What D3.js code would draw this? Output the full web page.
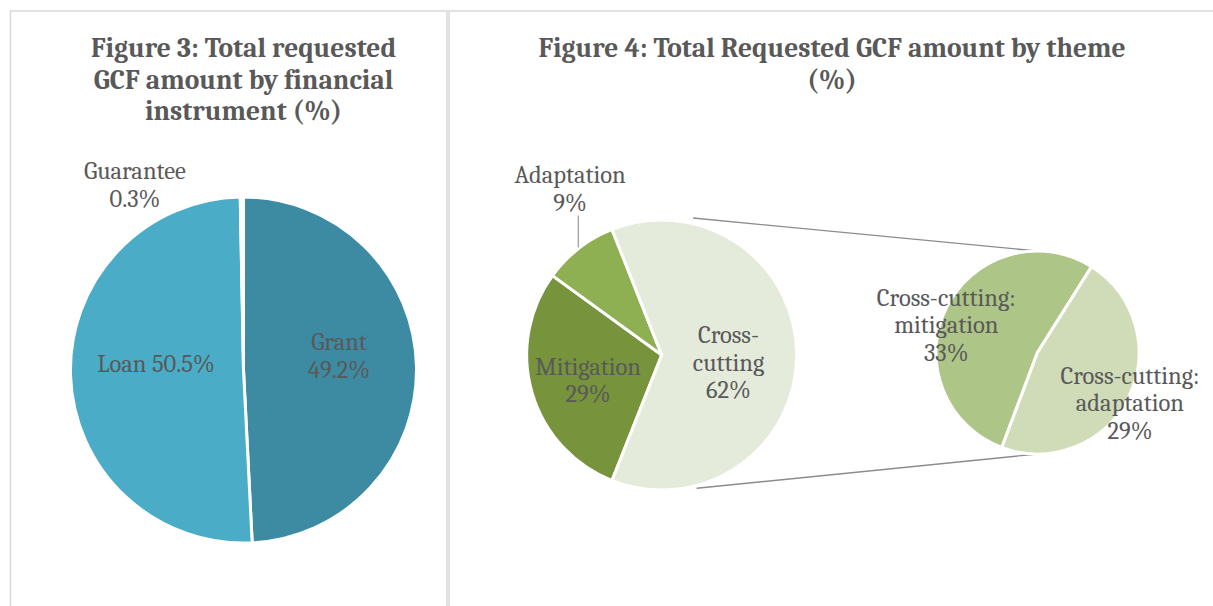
<!DOCTYPE html>
<html><head><meta charset="utf-8">
<script src="https://cdn.jsdelivr.net/npm/d3@7"></script>
<style>
body{margin:0;background:#fff}
svg{display:block}
text{font-family:Cambria,"Liberation Serif",serif;fill:#595959}
</style>
</head><body><svg id="c" width="1213" height="606"></svg>
<script>
// ---------- data ----------
const fig3Title = ["Figure 3: Total requested", "GCF amount by financial", "instrument (%)"];
const fig3Categories = ["Grant", "Loan", "Guarantee"];
const fig3Values = [49.2, 50.5, 0.3];
const fig3Labels = [["Grant", "49.2%"], ["Loan 50.5%"], ["Guarantee", "0.3%"]];

const fig4Title = ["Figure 4: Total Requested GCF amount by theme", "(%)"];
const fig4Categories = ["Mitigation", "Adaptation", "Cross-cutting"];
const fig4Values = [29, 9, 62];
const fig4Labels = [["Mitigation", "29%"], ["Adaptation", "9%"], ["Cross-", "cutting", "62%"]];

const fig4SubCategories = ["Cross-cutting: mitigation", "Cross-cutting: adaptation"];
const fig4SubValues = [33, 29];
const fig4SubLabels = [["Cross-cutting:", "mitigation", "33%"], ["Cross-cutting:", "adaptation", "29%"]];

// ---------- styles / layout ----------
const fig3Colors = ["#3d8ba3", "#4aacc6", "#f7fbfc"];
const fig4Colors = ["#77933c", "#8fb052", "#e5ebdb"];
const fig4SubColors = ["#adc586", "#d0dcb8"];

const svg = d3.select("#c");
const deg = Math.PI / 180;
const labelSize = 24.5, labelLead = 27.5;
const titleSize = 27.5, titleLead = 31.5;

// panel borders
svg.append("rect").attr("x", 10.5).attr("y", 11).attr("width", 436.5).attr("height", 700)
  .attr("fill", "none").attr("stroke", "#d9d9d9").attr("stroke-width", 1.5);
svg.append("rect").attr("x", 449).attr("y", 11).attr("width", 900).attr("height", 700)
  .attr("fill", "none").attr("stroke", "#d9d9d9").attr("stroke-width", 1.5);

function title(lines, cx, y0) {
  const t = svg.append("text").attr("text-anchor", "middle")
    .style("font-weight", "bold").style("font-size", titleSize + "px");
  lines.forEach((l, i) => t.append("tspan").attr("x", cx).attr("y", y0 + i * titleLead).text(l));
}

function label(lines, x, y) {
  const t = svg.append("text").attr("text-anchor", "middle").style("font-size", labelSize + "px");
  const n = lines.length;
  lines.forEach((l, i) => t.append("tspan").attr("x", x)
    .attr("y", y + (i - (n - 1) / 2) * labelLead).attr("dy", "0.33em").text(l));
}

function drawPie(values, colors, cx, cy, r, start, sw) {
  const pie = d3.pie().sort(null).value(d => d).startAngle(start).endAngle(start + 2 * Math.PI);
  const arcs = pie(values);
  const arc = d3.arc().innerRadius(0).outerRadius(r);
  const g = svg.append("g").attr("transform", `translate(${cx},${cy})`);
  g.selectAll("path").data(arcs).join("path")
    .attr("d", arc).attr("fill", (d, i) => colors[i])
    .attr("stroke", "#fff").attr("stroke-width", sw).attr("stroke-linejoin", "miter");
  return arcs;
}

function polar(cx, cy, a, dist) {
  const p = d3.pointRadial(a * deg, dist);
  return [cx + p[0], cy + p[1]];
}

// ---------- Figure 3 ----------
title(fig3Title, 243.5, 57);
const f3 = {cx: 243.5, cy: 370, r: 173};
drawPie(fig3Values, fig3Colors, f3.cx, f3.cy, f3.r, 0, 3);
const fig3LabelPos = [[81.7, 96.5], [-86.1, 87.7], [-30.4, 214.5]];
fig3Labels.forEach((l, i) => {
  const p = polar(f3.cx, f3.cy, fig3LabelPos[i][0], fig3LabelPos[i][1]);
  label(l, p[0], p[1]);
});

// ---------- Figure 4 ----------
title(fig4Title, 832, 57);
const f4 = {cx: 661.7, cy: 355, r: 135};
const f4s = {cx: 1037.5, cy: 352.5, r: 101.5};
const splitFrac = fig4Values[2] / d3.sum(fig4Values);
const mainStart = Math.PI / 2 + splitFrac * Math.PI;

// connector lines
const connectors = [
  [polar(f4.cx, f4.cy, 12.9, 140.5), [f4s.cx, f4s.cy - f4s.r]],
  [polar(f4.cx, f4.cy, 165.3, 137.8), [f4s.cx, f4s.cy + f4s.r]]
];
svg.selectAll("line.conn").data(connectors).join("line").attr("class", "conn")
  .attr("x1", d => d[0][0]).attr("y1", d => d[0][1])
  .attr("x2", d => d[1][0]).attr("y2", d => d[1][1])
  .attr("stroke", "#8c8c8c").attr("stroke-width", 1.4);

const mainArcs = drawPie(fig4Values, fig4Colors, f4.cx, f4.cy, f4.r, mainStart, 3);
drawPie(fig4SubValues, fig4SubColors, f4s.cx, f4s.cy, f4s.r, 200.6 * deg, 3);

const fig4LabelPos = [[251, 78], [-28.9, 189.6], [96.4, 67.2]];
fig4Labels.forEach((l, i) => {
  const p = polar(f4.cx, f4.cy, fig4LabelPos[i][0], fig4LabelPos[i][1]);
  label(l, p[0], p[1]);
});
// leader line for Adaptation
{
  const a = mainArcs[1];
  const mid = (a.startAngle + a.endAngle) / 2;
  const e = d3.pointRadial(mid, f4.r + 1);
  const lp = polar(f4.cx, f4.cy, fig4LabelPos[1][0], fig4LabelPos[1][1]);
  svg.append("line").attr("x1", f4.cx + e[0]).attr("x2", f4.cx + e[0])
    .attr("y1", lp[1] + 26.5).attr("y2", f4.cy + e[1])
    .attr("stroke", "#a6a6a6").attr("stroke-width", 1.4);
}
const fig4SubLabelPos = [[-73.4, 95.2], [118.8, 105.5]];
fig4SubLabels.forEach((l, i) => {
  const p = polar(f4s.cx, f4s.cy, fig4SubLabelPos[i][0], fig4SubLabelPos[i][1]);
  label(l, p[0], p[1]);
});
</script>
</body></html>
